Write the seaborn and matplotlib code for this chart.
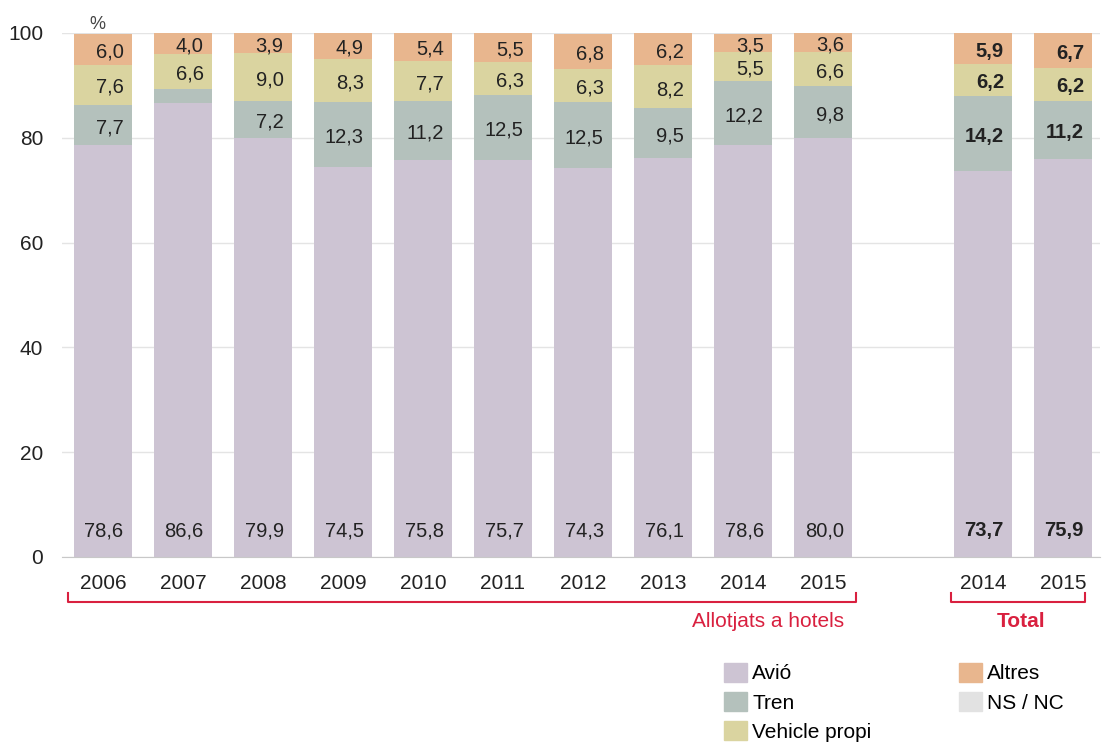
import numpy as np
import pandas as pd
import seaborn as sns
import matplotlib.pyplot as plt

years = ["2006", "2007", "2008", "2009", "2010", "2011", "2012", "2013", "2014", "2015", "2014", "2015"]
avio = [78.6, 86.6, 79.9, 74.5, 75.8, 75.7, 74.3, 76.1, 78.6, 80.0, 73.7, 75.9]
tren = [7.7, 2.8, 7.2, 12.3, 11.2, 12.5, 12.5, 9.5, 12.2, 9.8, 14.2, 11.2]
vehicle = [7.6, 6.6, 9.0, 8.3, 7.7, 6.3, 6.3, 8.2, 5.5, 6.6, 6.2, 6.2]
altres = [6.0, 4.0, 3.9, 4.9, 5.4, 5.5, 6.8, 6.2, 3.5, 3.6, 5.9, 6.7]
nsnc = [0.1, 0.0, 0.0, 0.0, 0.0, 0.0, 0.1, 0.0, 0.2, 0.0, 0.0, 0.0]
is_total = [False] * 10 + [True] * 2

series_names = ["Avió", "Tren", "Vehicle propi", "Altres", "NS / NC"]
colors = ["#cdc4d3", "#b4c1bc", "#dad4a0", "#e8b68e", "#e2e2e2"]
red = "#d9203f"

# bar positions: one empty slot between the hotel series and the totals
pos = [0, 1, 2, 3, 4, 5, 6, 7, 8, 9, 11, 12]

layers = np.array([avio, tren, vehicle, altres, nsnc])
cum = np.cumsum(layers, axis=0)

plt.rcParams['font.family'] = ['Liberation Sans', 'DejaVu Sans']
fig = plt.figure(figsize=(11.06, 7.47), dpi=100)
ax = fig.add_axes([62 / 1106, 1 - 557 / 747, 1038 / 1106, 524 / 747])

for i in range(len(series_names) - 1, -1, -1):
    df = pd.DataFrame({"pos": pos, "val": cum[i]})
    sns.barplot(data=df, x="pos", y="val", native_scale=True, width=0.72,
                color=colors[i], saturation=1, errorbar=None, linewidth=0,
                ax=ax, zorder=2)

# value labels
for j, p in enumerate(pos):
    weight = "bold" if is_total[j] else "normal"
    xr = p + 0.36 - 0.1
    ax.text(xr, 5, f"{avio[j]:.1f}".replace(".", ","), ha="right", va="center",
            fontsize=14.5, fontweight=weight, color="#222222", zorder=3)
    for k in range(1, 4):
        v = layers[k][j]
        if v < 3:
            continue
        yc = cum[k][j] - v / 2 - 0.5
        ax.text(xr, yc, f"{v:.1f}".replace(".", ","), ha="right", va="center",
                fontsize=14.5, fontweight=weight, color="#222222", zorder=3)

ax.set_xlim(-0.51, 12.46)
ax.set_ylim(0, 100)
ax.set_yticks([0, 20, 40, 60, 80, 100])
ax.set_xticks(pos)
ax.set_xticklabels(years)
ax.set_xlabel("")
ax.set_ylabel("")
ax.tick_params(axis="both", length=0, labelsize=15, colors="#222222")
ax.tick_params(axis="y", pad=13.5)
ax.tick_params(axis="x", pad=12)
ax.grid(axis="y", color="#e4e4e4", linewidth=1, zorder=0)
ax.set_axisbelow(True)
for s in ["top", "right", "left"]:
    ax.spines[s].set_visible(False)
ax.spines["bottom"].set_color("#c8c8c8")
ax.spines["bottom"].set_zorder(4)

ax.text(-0.07, 1.017, "%", transform=ax.get_xaxis_transform(), ha="center",
        va="center", fontsize=13, color="#444444")

# brackets under the groups
tr = ax.get_xaxis_transform()
for x0, x1 in [(-0.43, 9.41), (10.6, 12.27)]:
    ax.plot([x0, x0, x1, x1], [-0.069, -0.086, -0.086, -0.069], transform=tr,
            color=red, linewidth=1.5, clip_on=False, solid_joinstyle="round")
ax.text(9.26, -0.124, "Allotjats a hotels", transform=tr, ha="right", va="center",
        fontsize=15, color=red)
ax.text(11.47, -0.124, "Total", transform=tr, ha="center", va="center",
        fontsize=15, fontweight="bold", color=red)

handles = [plt.Rectangle((0, 0), 1, 1, color=c) for c in colors]
fig.legend(handles, series_names, ncol=2, loc="upper left",
           bbox_to_anchor=(724 / 1106, 1 - 663 / 747), frameon=False,
           fontsize=15, handlelength=1.1, handleheight=1.0, handletextpad=0.25,
           labelspacing=0.42, columnspacing=4.2, borderpad=0, borderaxespad=0)

fig.savefig("out.png", dpi=100)
